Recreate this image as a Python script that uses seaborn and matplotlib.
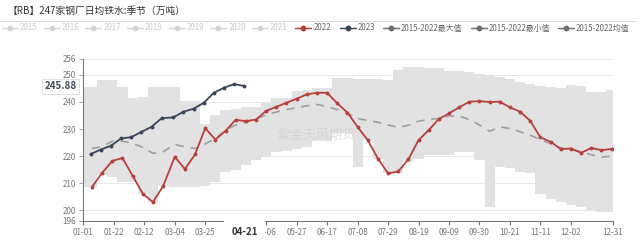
import numpy as np
import pandas as pd
import matplotlib
matplotlib.use("Agg")
import matplotlib.pyplot as plt
import seaborn as sns
from matplotlib.lines import Line2D

# ---------------- data ----------------
dates_2022 = pd.date_range("2022-01-07", periods=52, freq="7D")
dates_2023 = pd.date_range("2023-01-06", periods=16, freq="7D")

vals_2022 = [208.6, 213.8, 218.2, 219.3, 212.7, 206.1, 203.0, 208.9, 219.7, 215.2,
             220.6, 230.3, 226.1, 229.3, 233.4, 232.9, 233.5, 236.7, 238.2, 239.7,
             241.2, 242.8, 243.4, 243.4, 239.5, 236.1, 230.8, 225.9, 219.1, 213.6,
             214.3, 218.8, 225.9, 229.6, 233.7, 235.8, 238.0, 240.1, 240.3, 240.0,
             240.1, 238.0, 236.4, 233.0, 226.9, 225.3, 222.6, 222.8, 221.2, 223.0,
             222.2, 222.6]
vals_2023 = [220.7, 222.4, 223.8, 226.5, 227.0, 228.9, 230.8, 234.0, 234.3, 236.4,
             237.5, 239.7, 243.4, 245.3, 246.6, 245.88]
band_max = [245.4, 248.1, 248.1, 245.4, 241.5, 241.7, 245.4, 245.4, 245.4, 240.5,
            240.5, 232.0, 235.1, 237.0, 237.5, 238.2, 238.2, 239.5, 241.3, 241.3,
            244.0, 244.4, 245.0, 245.0, 248.7, 248.7, 248.4, 248.4, 248.4, 248.0,
            251.8, 252.8, 253.0, 252.4, 252.4, 251.5, 251.5, 251.0, 250.3, 250.0,
            249.3, 248.5, 247.5, 246.5, 246.0, 245.6, 245.0, 246.2, 246.0, 243.7,
            243.8, 244.4]
band_min = [208.6, 212.9, 212.3, 210.5, 210.5, 206.1, 203.0, 208.9, 208.6, 208.6,
            208.6, 209.0, 210.5, 214.2, 215.0, 216.6, 218.5, 219.7, 221.6, 222.0,
            222.8, 223.5, 225.5, 225.5, 228.5, 228.5, 216.0, 225.9, 219.0, 213.6,
            213.6, 217.9, 219.1, 220.3, 220.3, 220.3, 221.6, 221.6, 218.5, 201.2,
            216.0, 215.5, 214.2, 213.6, 206.0, 204.0, 203.0, 202.0, 201.0, 200.0,
            199.5, 199.4]
band_mean = [222.8, 223.5, 225.5, 225.5, 224.7, 223.2, 221.0, 221.6, 224.3, 223.4,
             222.8, 224.5, 226.5, 229.5, 231.5, 232.5, 233.7, 235.2, 236.3, 237.2,
             237.8, 238.6, 239.1, 238.3, 237.2, 235.8, 233.9, 233.2, 232.5, 231.5,
             230.6, 231.4, 232.9, 233.5, 233.9, 234.8, 234.8, 233.5, 231.5, 229.2,
             230.8, 230.2, 229.0, 227.7, 226.1, 224.6, 223.0, 222.3, 221.7, 220.5,
             219.6, 220.0]
tick_labels = ["01-01", "01-22", "02-12", "03-04", "03-25", "04-15", "05-06", "05-27",
               "06-17", "07-08", "07-29", "08-19", "09-09", "09-30", "10-21", "11-11",
               "12-02", "12-31"]
y_ticks = [196, 200, 210, 220, 230, 240, 250, 256]
legend_names = ["2015", "2016", "2017", "2018", "2019", "2020", "2021", "2022", "2023",
                "2015-2022最大值", "2015-2022最小值", "2015-2022均值"]
title = "【RB】247家钢厂日均铁水:季节（万吨）"
last_label = "04-21"
last_value = 245.88


def doy(ts):
    return pd.Timestamp(2020, ts.month, ts.day).dayofyear - 1


def mmdd_day(s):
    return pd.Timestamp("2020-" + s).dayofyear - 1


x22 = np.array([doy(d) for d in dates_2022], dtype=float)
x23 = np.array([doy(d) for d in dates_2023], dtype=float)
df22 = pd.DataFrame({"day": x22, "value": vals_2022})
df23 = pd.DataFrame({"day": x23, "value": vals_2023})
dfmean = pd.DataFrame({"day": x22, "value": band_mean})

# ---------------- style ----------------
sns.set_theme(style="white")
plt.rcParams["font.family"] = ["Noto Sans CJK SC", "DejaVu Sans"]

RED = "#b8403a"
DARK = "#3a4657"
GREY = "#6e6e6e"

fig = plt.figure(figsize=(6.4, 2.41), dpi=100)
W, H = 640, 241
ax = fig.add_axes([83.3 / W, 1 - 221 / H, (613 - 83.3) / W, (221 - 58.7) / H])

# band (step shape)
edges = np.concatenate([[0], (x22[:-1] + x22[1:]) / 2, [365]])
ax.stairs(band_max, edges, baseline=band_min, fill=True, color="#e2e2e2",
          linewidth=0, zorder=1)

sns.lineplot(data=dfmean, x="day", y="value", ax=ax, color="#a0a0a0",
             linewidth=1.2, dashes=False, zorder=2)
ax.lines[-1].set_dashes((5, 4))
sns.lineplot(data=df22, x="day", y="value", ax=ax, color=RED, linewidth=1.3,
             marker="o", markersize=2.8, markeredgewidth=0, zorder=4)
sns.lineplot(data=df23, x="day", y="value", ax=ax, color=DARK, linewidth=1.3,
             marker="o", markersize=2.8, markeredgewidth=0, zorder=5)

ax.set_xlim(0, 365)
ax.set_ylim(196, 256)
ax.set_xlabel("")
ax.set_ylabel("")

# the axis-pointer label at 04-21 hides the 04-15 tick label
tick_days = [mmdd_day(s) for s in tick_labels]
shown_labels = ["" if s == "04-15" else s for s in tick_labels]
ax.set_xticks(tick_days)
ax.set_xticklabels(shown_labels, fontsize=5.8, color="#777777")
ax.set_yticks(y_ticks)
ax.set_yticklabels([str(v) for v in y_ticks], fontsize=5.8, color="#777777")
ax.tick_params(axis="x", length=3, width=0.8, color="#777777", pad=2, direction="out", bottom=True)
ax.tick_params(axis="y", length=3, width=0.6, color="#999999", pad=2, direction="out", left=True)

for v in y_ticks[1:]:
    ax.axhline(v, color="#e8e8e8", linewidth=0.7, zorder=0.5)
for s in ["top", "right"]:
    ax.spines[s].set_visible(False)
ax.spines["left"].set_color("#777777")
ax.spines["left"].set_linewidth(0.8)
ax.spines["bottom"].set_color("#777777")
ax.spines["bottom"].set_linewidth(0.8)
ax.grid(False)

# watermark
ax.text(0.44, 0.53, "紫金天风期货", transform=ax.transAxes, fontsize=9.5,
        color="#cfcfcf", alpha=0.7, ha="center", va="center", zorder=3)

# value label on y axis
ax.text(-0.012, last_value, f"{last_value:.2f}", transform=ax.get_yaxis_transform(),
        ha="right", va="center", fontsize=7, fontweight="bold", color="#3c4a5c",
        bbox=dict(boxstyle="square,pad=0.25", facecolor="white", edgecolor="#dddddd",
                  linewidth=0.6), zorder=10, clip_on=False)
# x axis pointer label
ax.text(mmdd_day(last_label), -0.065, last_label, transform=ax.get_xaxis_transform(),
        ha="center", va="center", fontsize=7, fontweight="bold", color="#333333",
        bbox=dict(boxstyle="square,pad=0.75", facecolor="white", edgecolor="none"),
        zorder=10, clip_on=False)

# title and separator
fig.text(8 / W, 1 - 11 / H, title, fontsize=7, color="#333333", ha="left", va="center")
fig.add_artist(Line2D([0, 636 / W], [1 - 20.5 / H] * 2, color="#dddddd", linewidth=0.8))

# legend
marker_px = [10, 51.7, 93.3, 135, 176.7, 218.3, 260, 303.3, 348, 391, 479, 566]
colors = ["#d4d4d4"] * 7 + [RED, DARK, GREY, GREY, GREY]
text_colors = ["#cccccc"] * 7 + ["#666666"] * 5
ly = 1 - 28 / H
for mx, name, c, tc in zip(marker_px, legend_names, colors, text_colors):
    fig.add_artist(Line2D([(mx - 8) / W, (mx + 8) / W], [ly, ly], color=c, linewidth=1.0))
    fig.add_artist(Line2D([mx / W], [ly], color=c, marker="o", markersize=4.2,
                          markeredgewidth=0, linestyle="none"))
    fig.text((mx + 10) / W, ly, name, fontsize=5.7, color=tc, ha="left", va="center")

fig.savefig("out.png", dpi=100)
